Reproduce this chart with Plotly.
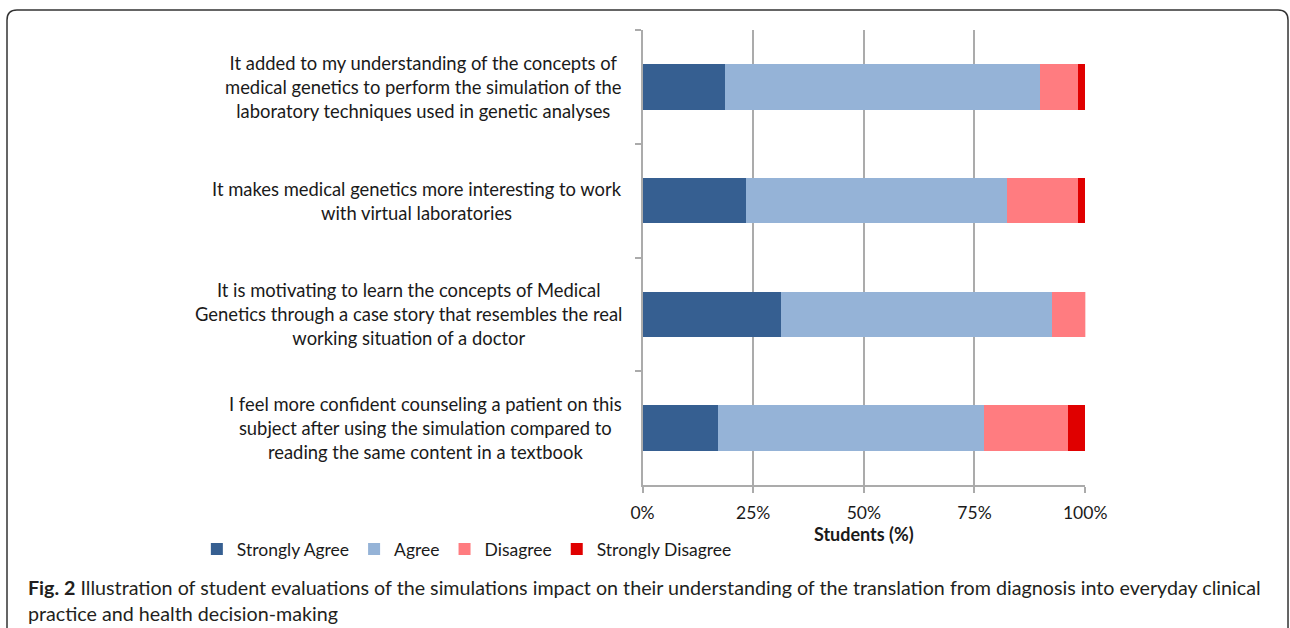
import plotly.graph_objects as go

# Figure fills the page (body margin removed in post_script)
W, H = 1320, 628
# measured horizontal mapping of the capture: image_x = SX * page_x + BX
SX, BX = 0.975, 10.0

categories = [
    "It added to my understanding of the concepts of<br>medical genetics to perform the simulation of the<br>laboratory techniques used in genetic analyses",
    "It makes medical genetics more interesting to work<br>with virtual laboratories",
    "It is motivating to learn the concepts of Medical<br>Genetics through a case story that resembles the real<br>working situation of a doctor",
    "I feel more confident counseling a patient on this<br>subject after using the simulation compared to<br>reading the same content in a textbook",
]
cat_ids = ["Q1", "Q2", "Q3", "Q4"]

strongly_agree = [18.6, 23.4, 31.3, 17.1]
agree = [71.2, 58.9, 61.2, 60.0]
disagree = [8.5, 16.0, 7.4, 19.1]
strongly_disagree = [1.7, 1.7, 0.1, 3.8]

series_names = ["Strongly Agree", "Agree", "Disagree", "Strongly Disagree"]
series_values = [strongly_agree, agree, disagree, strongly_disagree]
colors = ["#365F91", "#95B3D7", "#FF7C80", "#E00000"]

tick_vals = [0, 25, 50, 75, 100]
tick_text = ["0%", "25%", "50%", "75%", "100%"]

FONT = "Lato"
TXT = "#1a1a1a"

fig = go.Figure()
for name, vals, col in zip(series_names, series_values, colors):
    fig.add_trace(go.Bar(
        y=cat_ids, x=vals, name=name, orientation="h",
        marker=dict(color=col, line=dict(width=0)),
    ))


def px(x):
    # target image pixel -> paper fraction
    return ((x - BX) / SX) / W


def py(y):
    return 1 - y / H


x0, x1 = 641, 1084
y0, y1 = 30, 485

fig.update_layout(
    width=W, height=H,
    margin=dict(l=0, r=0, t=0, b=0),
    paper_bgcolor="white", plot_bgcolor="white",
    barmode="stack", bargap=0.6,
    font=dict(family=FONT, size=16, color=TXT),
    showlegend=True,
    legend=dict(
        orientation="h", x=px(195), y=py(531), xanchor="left", yanchor="top",
        font=dict(family=FONT, size=17.5, color=TXT),
        traceorder="normal", itemwidth=30,
    ),
    xaxis=dict(
        domain=[px(x0), px(x1)], range=[0, 100],
        tickvals=tick_vals, ticktext=tick_text,
        showgrid=True, gridcolor="#ABABAB", gridwidth=1.5,
        showline=True, linecolor="#ABABAB", linewidth=1.5,
        ticks="outside", ticklen=6, tickcolor="#ABABAB", tickwidth=1.5,
        tickfont=dict(family=FONT, size=17.5, color=TXT),
        ticklabelstandoff=5,
        zeroline=False,
        title=dict(text="<b>Students (%)</b>", font=dict(family=FONT, size=18, color=TXT), standoff=5),
        fixedrange=True,
    ),
    yaxis=dict(
        domain=[py(y1), py(y0)],
        categoryorder="array", categoryarray=cat_ids,
        autorange="reversed",
        showticklabels=False,
        showline=True, linecolor="#ABABAB", linewidth=1.5,
        ticks="outside", tickson="boundaries", ticklen=6, tickcolor="#ABABAB", tickwidth=1.5,
        showgrid=False, zeroline=False,
        fixedrange=True,
    ),
)

for cid, label in zip(cat_ids, categories):
    fig.add_annotation(
        x=px(622), xref="paper", xanchor="right",
        y=cid, yref="y", yanchor="middle",
        text=label, align="center", showarrow=False,
        font=dict(family=FONT, size=18.4, color=TXT),
    )

fig.add_annotation(
    x=px(24), y=py(574), xref="paper", yref="paper", xanchor="left", yanchor="top",
    text="<b>Fig. 2</b> Illustration of student evaluations of the simulations impact on their understanding of the translation from diagnosis into everyday clinical<br>practice and health decision-making",
    align="left", showarrow=False,
    font=dict(family=FONT, size=19.7, color="#231F20"),
)

# rounded frame (open at the bottom)
r = 10
L, R, T, B = 5, 1287, 10, 660
path = (f"M {px(L)},{py(B)} L {px(L)},{py(T + r)} Q {px(L)},{py(T)} {px(L + r)},{py(T)} "
        f"L {px(R - r)},{py(T)} Q {px(R)},{py(T)} {px(R)},{py(T + r)} L {px(R)},{py(B)}")
fig.add_shape(type="path", path=path, xref="paper", yref="paper",
              line=dict(color="#333333", width=1.5))

fig.write_html(
    "out.html",
    config={"displayModeBar": False},
    post_script="document.body.style.margin='0';document.body.style.overflow='hidden';",
)
